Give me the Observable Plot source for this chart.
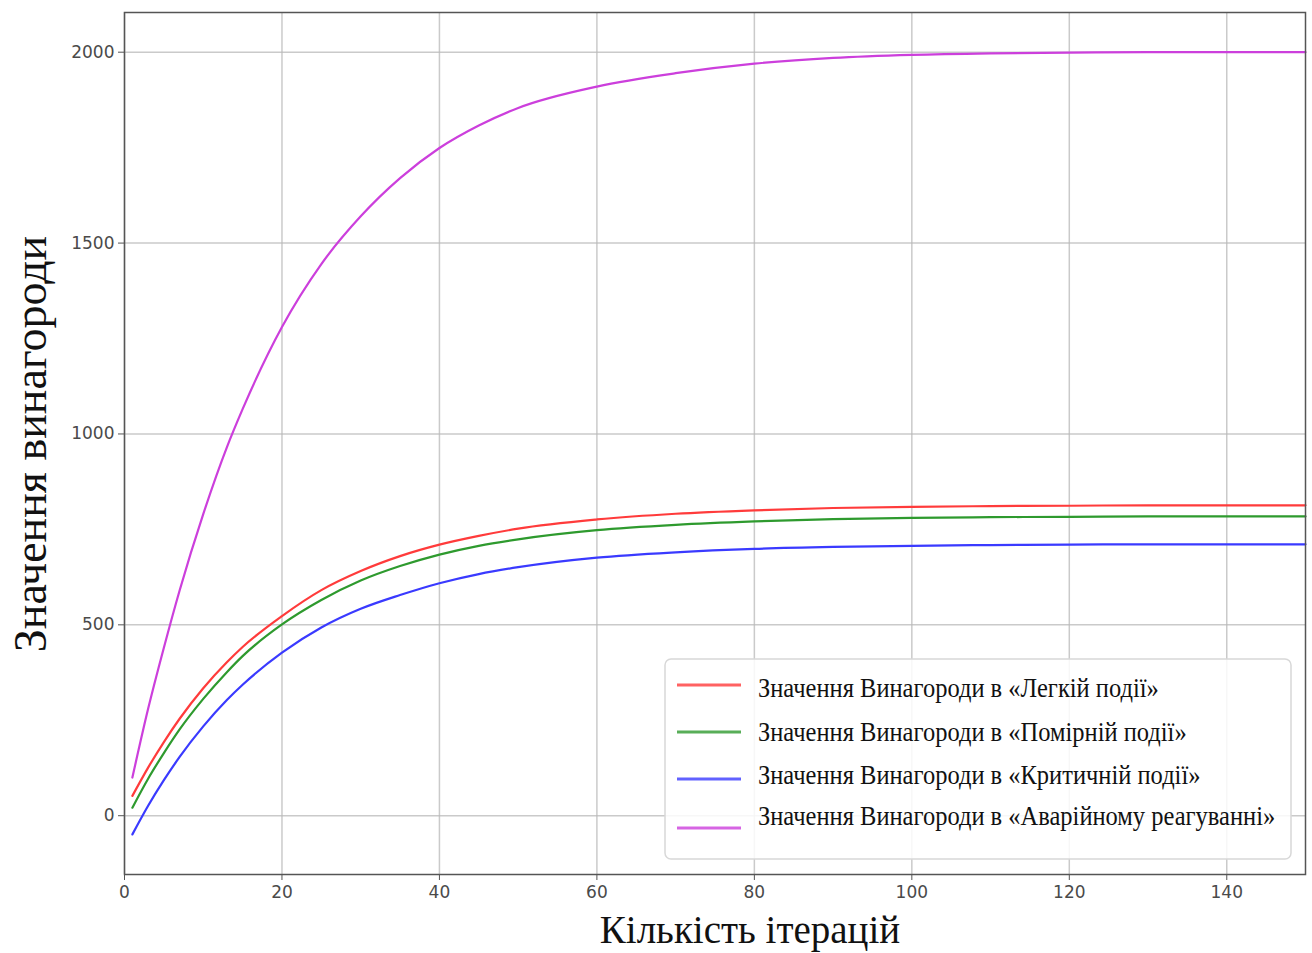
<!DOCTYPE html>
<html>
<head>
<meta charset="utf-8">
<script src="https://cdn.jsdelivr.net/npm/d3@7"></script>
<script src="https://cdn.jsdelivr.net/npm/@observablehq/plot@0.6"></script>
<style>
  html, body { margin: 0; padding: 0; background: #fff; }
  #chart { width: 1312px; height: 953px; }
</style>
</head>
<body>
<div id="chart"></div>
<script>
// Iterations (x values)
const iterations = [1, 3, 5, 7, 10, 13, 15, 20, 25, 30, 35, 40, 45, 50, 60, 70, 80, 90, 100, 110, 120, 130, 140, 150];

// Series values
const easyEvent     = [52, 126, 193, 254, 334, 402, 442, 523, 591, 641, 680, 710, 733, 752, 776, 791, 800, 806, 809, 811, 812, 813, 813, 813];
const moderateEvent = [21, 97, 164, 226, 306, 376, 418, 501, 565, 616, 654, 684, 707, 724, 748, 762, 771, 777, 780, 782, 783, 784, 784, 784];
const criticalEvent = [-49, 26, 93, 154, 234, 303, 343, 427, 493, 542, 578, 609, 633, 651, 676, 690, 699, 704, 707, 709, 710, 711, 711, 711];
const emergencyResp = [100, 280, 440, 590, 790, 965, 1065, 1280, 1445, 1570, 1670, 1749, 1808, 1854, 1910, 1945, 1970, 1985, 1993, 1997, 1999, 2000, 2000, 2000];

const seriesNames = [
  "Значення Винагороди в «Легкій події»",
  "Значення Винагороди в «Помірній події»",
  "Значення Винагороди в «Критичній події»",
  "Значення Винагороди в «Аварійному реагуванні»"
];
const seriesColors = ["#ff3b3b", "#2e9a2e", "#3a3aff", "#cc3fdc"];
const seriesValues = [easyEvent, moderateEvent, criticalEvent, emergencyResp];

const xTicks = [0, 20, 40, 60, 80, 100, 120, 140];
const yTicks = [0, 500, 1000, 1500, 2000];

const xLabel = "Кількість ітерацій";
const yLabel = "Значення винагороди";

const rows = [];
seriesValues.forEach((vals, si) => {
  vals.forEach((v, i) => rows.push({x: iterations[i], y: v, s: seriesNames[si]}));
});

const W = 1312, H = 953;
const mL = 124, mT = 12, mR = 7, mB = 79;

const chart = Plot.plot({
  width: W,
  height: H,
  marginLeft: mL,
  marginTop: mT,
  marginRight: mR,
  marginBottom: mB,
  style: {fontFamily: "DejaVu Sans", fontSize: "17px", color: "#444", background: "#fff"},
  x: {domain: [0, 150], label: null},
  y: {domain: [-154, 2104], label: null},
  color: {domain: seriesNames, range: seriesColors},
  marks: [
    Plot.gridX(xTicks, {stroke: "#b8b8b8", strokeOpacity: 0.75, strokeWidth: 1.5}),
    Plot.gridY(yTicks, {stroke: "#b8b8b8", strokeOpacity: 0.75, strokeWidth: 1.5}),
    Plot.axisX(xTicks, {tickSize: 6, tickPadding: 5, stroke: "#555", fill: "#4a4a4a", tickFormat: d => String(d)}),
    Plot.axisY(yTicks, {tickSize: 6, tickPadding: 4, stroke: "#555", fill: "#4a4a4a", tickFormat: d => String(d)}),
    Plot.line(rows, {x: "x", y: "y", z: "s", stroke: "s", strokeWidth: 2.2, curve: "monotone-x"}),
    Plot.frame({stroke: "#555", strokeWidth: 1.5})
  ]
});

document.getElementById("chart").appendChild(chart);

const svg = d3.select(chart);
const serif = "'Liberation Serif', 'Times New Roman', serif";

// Axis titles
svg.append("text")
  .attr("x", 750).attr("y", 943)
  .attr("text-anchor", "middle")
  .style("font-family", serif)
  .style("font-size", "39px")
  .attr("fill", "#111")
  .text(xLabel);

svg.append("text")
  .attr("transform", "translate(46,444) rotate(-90)")
  .attr("text-anchor", "middle")
  .style("font-family", serif)
  .style("font-size", "46px")
  .attr("fill", "#111")
  .text(yLabel);

// Legend
const lg = svg.append("g");
lg.append("rect")
  .attr("x", 665).attr("y", 659).attr("width", 626).attr("height", 200)
  .attr("rx", 6).attr("ry", 6)
  .attr("fill", "#fff").attr("fill-opacity", 0.85)
  .attr("stroke", "#d8d8d8").attr("stroke-width", 1.5);

const lineY = [685, 732, 779, 828];
const baseY = [697, 741, 784, 825];
seriesNames.forEach((name, i) => {
  lg.append("line")
    .attr("x1", 677).attr("x2", 741)
    .attr("y1", lineY[i]).attr("y2", lineY[i])
    .attr("stroke", seriesColors[i]).attr("stroke-width", 3).attr("stroke-opacity", 0.8);
  lg.append("text")
    .attr("transform", `translate(758,${baseY[i]}) scale(1,1.12)`)
    .attr("text-anchor", "start")
    .style("font-family", serif)
    .style("font-size", "24.5px")
    .attr("fill", "#111")
    .text(name);
});
</script>
</body>
</html>
